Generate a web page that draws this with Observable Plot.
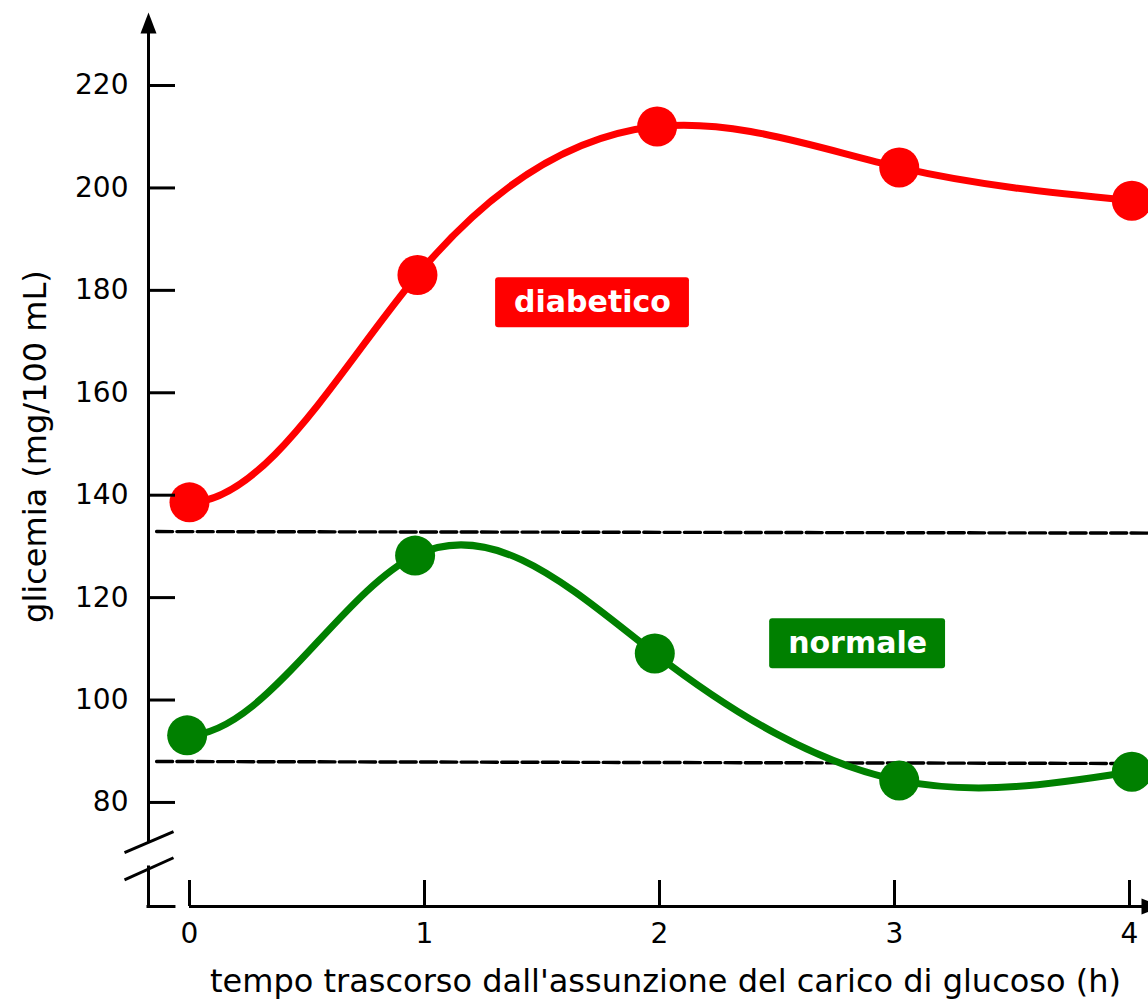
<!DOCTYPE html>
<html>
<head>
<meta charset="utf-8">
<script src="https://cdn.jsdelivr.net/npm/d3@7"></script>
<script src="https://cdn.jsdelivr.net/npm/@observablehq/plot@0.6"></script>
<style>
  html, body { margin: 0; padding: 0; background: white; overflow: hidden; }
</style>
</head>
<body>
<div id="chart"></div>
<script>
// ---- data ----
const diabeticoHours = [0, 0.97, 1.99, 3.02, 4.01];
const diabeticoGlicemia = [138.6, 183, 212, 204, 197.5];
const normaleHours = [-0.01, 0.96, 1.98, 3.02, 4.01];
const normaleGlicemia = [93.1, 128.2, 109.1, 84.3, 86.0];

const refUpperHours = [-0.14, 4.09];
const refUpperGlicemia = [132.9, 132.6];
const refLowerHours = [-0.14, 4.09];
const refLowerGlicemia = [88.0, 87.6];

const xTicks = [0, 1, 2, 3, 4];
const yTicks = [80, 100, 120, 140, 160, 180, 200, 220];

const labelNames = ["diabetico", "normale"];
const labelHours = [1.715, 2.843];
const labelGlicemia = [177.6, 111.0];
const labelColors = ["#ff0000", "#008000"];

const xTitle = "tempo trascorso dall'assunzione del carico di glucoso (h)";
const yTitle = "glicemia (mg/100 mL)";

// ---- scales / layout ----
const W = 1148, H = 1001;
const mL = 148, mR = 0, mT = 12, mB = 95;
const xDomain = [-0.17447, 4.08085];
const yDomain = [59.68, 234.26];
const frameW = W - mL - mR, frameH = H - mT - mB;

// axis decoration geometry (in scale units)
const yAxisSegments = [{y1: 72.4, y2: yDomain[1] - 3}, {y1: yDomain[0], y2: 67.3}];
const yAxisFoot = [{x1: xDomain[0], x2: -0.064, y: yDomain[0]}];
const breakMarks = [
  {x1: -0.2766, y1: 70.2, x2: -0.068, y2: 74.3},
  {x1: -0.2766, y1: 64.9, x2: -0.068, y2: 69.2}
];

const toRows = (xs, ys, extra = {}) => xs.map((x, i) => ({x, y: ys[i], ...extra}));
const diabetico = toRows(diabeticoHours, diabeticoGlicemia);
const normale = toRows(normaleHours, normaleGlicemia);
const refUpper = toRows(refUpperHours, refUpperGlicemia);
const refLower = toRows(refLowerHours, refLowerGlicemia);
const labels = labelNames.map((name, i) => ({name, x: labelHours[i], y: labelGlicemia[i], color: labelColors[i]}));

// cubic spline with zero slope at start, natural at end
function clampedSpline(context) {
  let xs, ys;
  return {
    areaStart() {}, areaEnd() {},
    lineStart() { xs = []; ys = []; },
    point(x, y) { xs.push(+x); ys.push(+y); },
    lineEnd() {
      const n = xs.length;
      if (!n) return;
      context.moveTo(xs[0], ys[0]);
      if (n === 1) return;
      if (n === 2) { context.lineTo(xs[1], ys[1]); return; }
      const h = [], d = [];
      for (let i = 0; i < n - 1; i++) { h[i] = xs[i + 1] - xs[i]; d[i] = (ys[i + 1] - ys[i]) / h[i]; }
      const a = new Array(n).fill(0), b = new Array(n).fill(0), c = new Array(n).fill(0), r = new Array(n).fill(0);
      b[0] = 1; c[0] = 0; r[0] = 0;
      for (let i = 1; i < n - 1; i++) {
        a[i] = 1 / h[i - 1]; b[i] = 2 * (1 / h[i - 1] + 1 / h[i]); c[i] = 1 / h[i];
        r[i] = 3 * (d[i - 1] / h[i - 1] + d[i] / h[i]);
      }
      a[n - 1] = 1; b[n - 1] = 2; r[n - 1] = 3 * d[n - 2];
      for (let i = 1; i < n; i++) {
        const w = a[i] / b[i - 1];
        b[i] -= w * c[i - 1]; r[i] -= w * r[i - 1];
      }
      const m = new Array(n);
      m[n - 1] = r[n - 1] / b[n - 1];
      for (let i = n - 2; i >= 0; i--) m[i] = (r[i] - c[i] * m[i + 1]) / b[i];
      for (let i = 0; i < n - 1; i++) {
        context.bezierCurveTo(xs[i] + h[i] / 3, ys[i] + m[i] * h[i] / 3,
                              xs[i + 1] - h[i] / 3, ys[i + 1] - m[i + 1] * h[i] / 3,
                              xs[i + 1], ys[i + 1]);
      }
    }
  };
}

const arrowUp = {draw(ctx) { ctx.moveTo(0, 0); ctx.lineTo(8, 21); ctx.lineTo(-8, 21); ctx.closePath(); }};
const arrowRight = {draw(ctx) { ctx.moveTo(21, 0); ctx.lineTo(0, -8); ctx.lineTo(0, 8); ctx.closePath(); }};

// measure label width
const cnv = document.createElement("canvas").getContext("2d");
cnv.font = "bold 30px 'DejaVu Sans'";
const boxMarks = labels.map(l => {
  const w = cnv.measureText(l.name).width + 37;
  return Plot.rect([l], {x1: "x", x2: "x", y1: "y", y2: "y",
    insetLeft: -w / 2, insetRight: -w / 2, insetTop: -25, insetBottom: -25,
    fill: "color", rx: 3});
});

const dash = {stroke: "black", strokeWidth: 3.4, strokeDasharray: "16,4.3"};

const chart = Plot.plot({
  width: W, height: H,
  marginLeft: mL, marginRight: mR, marginTop: mT, marginBottom: mB,
  x: {domain: xDomain, axis: null},
  y: {domain: yDomain, axis: null},
  style: {fontFamily: "'DejaVu Sans', sans-serif", fontSize: "28px", background: "white", overflow: "hidden"},
  marks: [
    // reference dashed lines
    Plot.line(refUpper, {x: "x", y: "y", ...dash}),
    Plot.line(refLower, {x: "x", y: "y", ...dash}),
    // series
    Plot.line(diabetico, {x: "x", y: "y", stroke: "#ff0000", strokeWidth: 7, curve: clampedSpline}),
    Plot.line(normale, {x: "x", y: "y", stroke: "#008000", strokeWidth: 7, curve: clampedSpline}),
    Plot.dot(diabetico, {x: "x", y: "y", r: 20, fill: "#ff0000"}),
    Plot.dot(normale, {x: "x", y: "y", r: 20, fill: "#008000"}),
    // labels
    ...boxMarks,
    Plot.text(labels, {x: "x", y: "y", text: "name", fill: "white", fontWeight: "bold", fontSize: 30}),
    // y axis
    Plot.ruleX(yAxisSegments, {x: () => xDomain[0], y1: "y1", y2: "y2", strokeWidth: 3, strokeLinecap: "square"}),
    Plot.ruleY(yAxisFoot, {x1: "x1", x2: "x2", y: "y", strokeWidth: 3, strokeLinecap: "square"}),
    Plot.link(breakMarks, {x1: "x1", y1: "y1", x2: "x2", y2: "y2", strokeWidth: 3}),
    Plot.dot([{x: xDomain[0], y: yDomain[1]}], {x: "x", y: "y", symbol: arrowUp, fill: "black", stroke: null}),
    Plot.tickY(yTicks, {y: d => d, insetRight: frameW - 27, strokeWidth: 3}),
    Plot.text(yTicks, {y: d => d, frameAnchor: "left", textAnchor: "end", dx: -20, fontSize: 28}),
    // x axis
    Plot.ruleY([{x1: 0, x2: xDomain[1] + 0.1, y: yDomain[0]}], {x1: "x1", x2: "x2", y: "y", strokeWidth: 3}),
    Plot.dot([{x: 4.051, y: yDomain[0]}], {x: "x", y: "y", symbol: arrowRight, fill: "black", stroke: null}),
    Plot.tickX(xTicks, {x: d => d, insetTop: frameH - 26, strokeWidth: 3}),
    Plot.text(xTicks, {x: d => d, frameAnchor: "bottom", lineAnchor: "top", dy: 17, fontSize: 28}),
    // axis titles
    Plot.text([xTitle], {x: () => 2.0255, frameAnchor: "bottom", textAnchor: "middle", lineAnchor: "middle", dy: 75, text: d => d, fontSize: 32}),
    Plot.text([yTitle], {y: () => 149.5, frameAnchor: "left", textAnchor: "middle", lineAnchor: "middle", dx: -113, rotate: -90, text: d => d, fontSize: 32})
  ]
});
document.getElementById("chart").appendChild(chart);
</script>
</body>
</html>
